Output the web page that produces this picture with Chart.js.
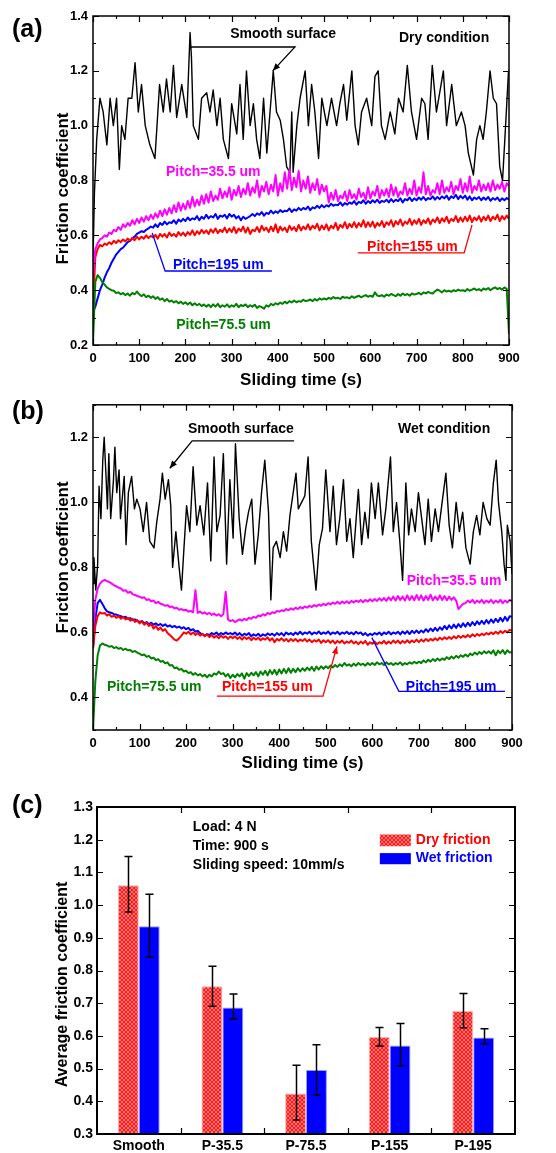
<!DOCTYPE html>
<html><head><meta charset="utf-8">
<script src="https://cdn.jsdelivr.net/npm/chart.js@4.4.1/dist/chart.umd.min.js"></script>
<style>
html,body{margin:0;padding:0;background:#fff;}
#wrap{position:relative;width:556px;height:1153px;overflow:hidden;background:#fff;}
canvas{position:absolute;left:0;}
</style></head><body>
<div id="wrap">
<canvas id="ca" width="556" height="392" style="top:0;width:556px;height:392px"></canvas>
<canvas id="cb" width="556" height="390" style="top:392px;width:556px;height:390px"></canvas>
<canvas id="cc" width="556" height="371" style="top:782px;width:556px;height:371px"></canvas>
</div>
<script>
// ---------------- DATA ----------------
const timeTicks = [0,100,200,300,400,500,600,700,800,900];
const timeMinorTicks = [50,150,250,350,450,550,650,750,850];
const dryYTicks = [0.2,0.4,0.6,0.8,1.0,1.2,1.4];
const dryYMinor = [0.3,0.5,0.7,0.9,1.1,1.3];
const wetYTicks = [0.4,0.6,0.8,1.0,1.2];
const wetYMinor = [0.3,0.5,0.7,0.9,1.1,1.3];
const barYTicks = [0.3,0.4,0.5,0.6,0.7,0.8,0.9,1.0,1.1,1.2,1.3];

// sampling grid (s) of the coloured traces
const sampleTimes = Array.from({length:181},(_,i)=>i*5);

// (a) dry, smooth surface (read at its peaks/valleys)
const dryTimeSmooth = [0,3,8,15,22,30,37,44,51,57,62,69,76,84,91,98,105,113,123,134,144,152,159,167,174,181,192,203,210,213,217,228,235,246,253,260,268,275,282,293,300,311,318,325,332,340,347,354,361,369,376,383,390,397,405,412,419,426,430,433,441,448,459,466,473,480,488,495,506,516,527,534,542,549,560,567,574,581,592,603,610,617,624,632,643,653,661,671,680,689,700,711,718,725,734,743,750,758,765,776,786,797,805,812,823,830,837,844,851,859,866,873,880,886,891,899,900];
const drySmooth = [0.5,0.75,0.95,1.1,1.05,0.93,1.1,1.0,1.1,0.84,1.0,0.95,1.1,1.1,1.23,1.05,1.15,1.0,0.93,0.88,1.15,1.05,1.17,1.05,1.22,1.03,1.15,1.03,1.34,1.25,1.0,0.95,1.1,1.12,1.05,1.13,1.0,1.1,0.95,0.88,1.08,0.97,1.15,0.95,1.2,1.0,1.08,0.95,0.88,1.1,0.9,1.05,1.2,1.05,1.02,0.95,0.85,0.83,1.05,0.83,1.0,1.1,1.2,1.0,1.15,1.05,0.88,1.1,1.0,1.1,1.0,1.08,1.15,1.02,1.2,1.0,0.93,1.05,1.1,1.0,1.18,1.2,1.0,0.95,1.05,0.97,1.1,1.05,1.22,1.05,0.95,1.1,1.08,0.95,1.22,1.05,1.12,1.2,1.0,1.15,1.0,1.05,1.0,0.9,0.82,0.95,1.0,0.95,1.05,1.2,1.1,1.08,0.85,0.8,0.95,1.2,1.2];

const dryP35 = [
0.45,0.55,0.57,0.585,0.59,0.60,0.595,0.61,0.605,0.62,
0.615,0.63,0.62,0.64,0.63,0.645,0.635,0.655,0.64,0.66,
0.645,0.665,0.65,0.67,0.655,0.675,0.66,0.68,0.665,0.69,
0.67,0.695,0.675,0.70,0.68,0.71,0.685,0.72,0.69,0.715,
0.695,0.725,0.70,0.74,0.705,0.73,0.71,0.745,0.715,0.75,
0.72,0.76,0.725,0.745,0.73,0.77,0.735,0.76,0.74,0.775,
0.73,0.765,0.745,0.78,0.74,0.77,0.75,0.79,0.745,0.775,
0.755,0.80,0.74,0.78,0.76,0.795,0.75,0.785,0.76,0.82,
0.745,0.79,0.76,0.83,0.77,0.84,0.765,0.81,0.775,0.835,
0.76,0.80,0.77,0.815,0.755,0.79,0.765,0.805,0.75,0.785,
0.76,0.78,0.72,0.755,0.73,0.765,0.725,0.745,0.735,0.76,
0.725,0.765,0.735,0.75,0.73,0.77,0.74,0.755,0.73,0.775,
0.735,0.76,0.745,0.78,0.735,0.765,0.745,0.77,0.74,0.785,
0.745,0.775,0.74,0.76,0.75,0.79,0.745,0.77,0.75,0.80,
0.745,0.775,0.755,0.83,0.75,0.78,0.745,0.765,0.755,0.79,
0.75,0.80,0.755,0.775,0.76,0.795,0.75,0.78,0.765,0.805,
0.755,0.79,0.76,0.815,0.755,0.78,0.765,0.80,0.76,0.785,
0.765,0.79,0.76,0.80,0.765,0.785,0.77,0.795,0.76,0.79,
0.78];
const dryP195 = [
0.32,0.34,0.37,0.40,0.42,0.445,0.465,0.48,0.50,0.515,
0.53,0.54,0.55,0.555,0.565,0.575,0.58,0.59,0.595,0.605,
0.61,0.615,0.612,0.62,0.625,0.632,0.628,0.64,0.63,0.645,
0.638,0.65,0.64,0.648,0.645,0.655,0.642,0.658,0.65,0.66,
0.652,0.665,0.655,0.662,0.658,0.67,0.655,0.668,0.66,0.675,
0.662,0.67,0.665,0.678,0.66,0.672,0.668,0.675,0.662,0.678,
0.668,0.675,0.662,0.67,0.655,0.668,0.66,0.665,0.67,0.678,
0.67,0.68,0.675,0.685,0.672,0.682,0.678,0.69,0.68,0.688,
0.682,0.692,0.685,0.69,0.688,0.698,0.685,0.695,0.69,0.70,
0.692,0.70,0.695,0.705,0.692,0.702,0.698,0.708,0.70,0.71,
0.702,0.71,0.705,0.715,0.708,0.712,0.71,0.72,0.708,0.718,
0.712,0.72,0.715,0.725,0.712,0.722,0.718,0.728,0.715,0.725,
0.718,0.728,0.72,0.73,0.718,0.726,0.722,0.73,0.72,0.732,
0.722,0.73,0.725,0.735,0.72,0.732,0.728,0.738,0.725,0.735,
0.728,0.738,0.73,0.74,0.728,0.736,0.732,0.742,0.73,0.74,
0.732,0.742,0.735,0.745,0.73,0.742,0.736,0.748,0.732,0.744,
0.735,0.745,0.73,0.742,0.728,0.738,0.732,0.74,0.728,0.738,
0.73,0.74,0.726,0.736,0.73,0.738,0.725,0.735,0.728,0.736,
0.73];
const dryP155 = [
0.34,0.52,0.55,0.565,0.56,0.57,0.565,0.575,0.568,0.58,
0.572,0.582,0.575,0.585,0.578,0.588,0.58,0.59,0.582,0.595,
0.585,0.595,0.588,0.6,0.59,0.598,0.592,0.602,0.588,0.605,
0.595,0.605,0.592,0.61,0.598,0.605,0.595,0.612,0.6,0.61,
0.598,0.612,0.602,0.618,0.6,0.615,0.605,0.62,0.608,0.618,
0.605,0.622,0.61,0.625,0.608,0.62,0.612,0.628,0.61,0.625,
0.612,0.63,0.608,0.625,0.615,0.632,0.61,0.628,0.605,0.62,
0.615,0.63,0.612,0.635,0.618,0.628,0.612,0.632,0.615,0.64,
0.61,0.632,0.618,0.628,0.612,0.635,0.62,0.63,0.615,0.638,
0.618,0.632,0.622,0.64,0.62,0.635,0.625,0.642,0.618,0.636,
0.622,0.64,0.618,0.635,0.625,0.645,0.62,0.638,0.628,0.648,
0.625,0.642,0.63,0.648,0.628,0.645,0.632,0.655,0.63,0.648,
0.632,0.65,0.628,0.645,0.635,0.652,0.63,0.648,0.638,0.655,
0.632,0.652,0.64,0.658,0.635,0.65,0.642,0.66,0.638,0.655,
0.642,0.66,0.638,0.655,0.645,0.662,0.64,0.658,0.648,0.665,
0.645,0.662,0.65,0.668,0.645,0.66,0.652,0.67,0.648,0.665,
0.65,0.668,0.652,0.672,0.648,0.665,0.655,0.67,0.65,0.668,
0.655,0.672,0.652,0.668,0.658,0.675,0.652,0.67,0.658,0.672,
0.66];
const dryP75 = [
0.21,0.43,0.455,0.445,0.43,0.42,0.41,0.405,0.40,0.398,
0.39,0.392,0.385,0.39,0.382,0.388,0.38,0.39,0.385,0.395,
0.385,0.378,0.385,0.375,0.38,0.372,0.378,0.368,0.375,0.365,
0.37,0.36,0.368,0.358,0.362,0.355,0.36,0.352,0.358,0.35,
0.356,0.348,0.355,0.345,0.352,0.345,0.35,0.342,0.348,0.34,
0.347,0.338,0.348,0.34,0.35,0.338,0.345,0.34,0.348,0.338,
0.345,0.34,0.35,0.338,0.346,0.342,0.348,0.338,0.345,0.34,
0.347,0.335,0.342,0.338,0.332,0.345,0.34,0.35,0.345,0.352,
0.348,0.355,0.35,0.358,0.352,0.36,0.355,0.362,0.356,0.36,
0.358,0.365,0.36,0.362,0.366,0.36,0.368,0.362,0.37,0.365,
0.37,0.366,0.372,0.368,0.375,0.37,0.372,0.368,0.376,0.372,
0.374,0.37,0.378,0.372,0.376,0.38,0.374,0.378,0.382,0.376,
0.38,0.376,0.392,0.38,0.378,0.382,0.376,0.384,0.38,0.386,
0.382,0.378,0.386,0.38,0.388,0.382,0.386,0.38,0.388,0.384,
0.386,0.39,0.384,0.392,0.388,0.394,0.39,0.388,0.396,0.402,
0.398,0.392,0.4,0.395,0.398,0.394,0.4,0.396,0.402,0.398,
0.4,0.396,0.404,0.398,0.402,0.406,0.4,0.404,0.398,0.406,
0.402,0.408,0.4,0.406,0.41,0.404,0.408,0.402,0.41,0.405,
0.24];

// (b) wet
const wetTimeSmooth = [0,2,6,10,13,17,21,24,28,31,34,38,44,47,51,56,59,67,71,76,83,89,94,101,108,115,122,131,137,144,149,155,162,167,171,178,185,190,195,201,208,215,223,230,238,246,253,260,266,273,280,287,294,301,306,314,321,328,334,341,348,355,362,369,377,382,387,394,402,409,416,423,430,436,441,448,455,462,469,479,486,493,500,509,516,523,530,538,545,552,559,570,577,584,591,598,606,613,622,629,639,645,652,659,665,672,678,684,692,699,706,713,720,727,735,742,749,758,765,772,780,787,794,801,810,817,824,831,838,846,853,860,866,871,878,883,887,890,896,900];
const wetSmooth = [0.75,0.83,0.73,0.81,1.05,0.95,1.13,1.2,1.08,0.98,1.15,0.95,1.07,1.17,1.03,1.1,0.95,1.08,0.87,1.03,1.08,0.98,1.01,0.98,0.91,1.0,0.88,0.86,0.94,1.01,1.09,1.01,1.07,0.99,0.8,0.91,0.8,0.73,0.85,0.99,0.91,1.11,0.93,0.99,0.9,1.06,0.82,1.14,0.91,0.96,1.15,0.81,1.07,0.89,1.18,0.95,0.84,0.92,0.97,1.01,0.81,0.9,1.03,1.13,0.97,0.7,0.86,0.88,0.83,0.91,0.85,0.96,1.03,1.09,0.98,1.0,1.02,1.14,0.88,0.73,0.87,0.92,1.1,0.91,1.05,0.87,0.95,1.07,0.88,0.95,0.83,1.04,0.87,0.97,0.89,1.06,0.95,1.06,0.9,0.98,1.14,0.91,1.0,0.88,0.76,1.06,0.9,0.98,0.91,1.03,0.95,0.87,1.01,0.88,0.98,0.91,0.99,1.09,0.93,0.86,1.0,0.91,0.97,0.86,0.81,0.91,0.96,0.9,1.0,0.95,0.93,1.06,1.13,1.0,0.91,0.81,0.76,0.93,0.88,0.78];

const wetP35 = [
0.60,0.70,0.735,0.75,0.758,0.762,0.758,0.755,0.75,0.745,
0.742,0.738,0.735,0.728,0.73,0.722,0.725,0.718,0.715,0.712,
0.71,0.706,0.708,0.70,0.702,0.696,0.698,0.69,0.694,0.688,
0.686,0.682,0.684,0.678,0.68,0.674,0.676,0.67,0.672,0.668,
0.67,0.664,0.666,0.662,0.73,0.66,0.664,0.658,0.662,0.656,
0.66,0.654,0.658,0.652,0.656,0.65,0.656,0.725,0.64,0.635,
0.638,0.632,0.636,0.64,0.636,0.642,0.638,0.645,0.642,0.648,
0.645,0.652,0.65,0.656,0.652,0.66,0.656,0.662,0.66,0.666,
0.664,0.668,0.666,0.672,0.668,0.674,0.67,0.676,0.672,0.678,
0.674,0.68,0.676,0.682,0.678,0.684,0.68,0.686,0.682,0.688,
0.684,0.69,0.686,0.692,0.688,0.694,0.688,0.695,0.69,0.696,
0.69,0.697,0.692,0.698,0.694,0.70,0.693,0.70,0.695,0.702,
0.696,0.703,0.697,0.705,0.698,0.706,0.697,0.708,0.699,0.71,
0.698,0.712,0.70,0.71,0.698,0.714,0.70,0.712,0.699,0.715,
0.70,0.714,0.698,0.712,0.70,0.716,0.699,0.71,0.70,0.714,
0.70,0.712,0.699,0.71,0.70,0.708,0.698,0.672,0.68,0.688,
0.69,0.698,0.692,0.70,0.69,0.698,0.692,0.70,0.69,0.698,
0.692,0.70,0.69,0.698,0.692,0.70,0.69,0.698,0.692,0.70,
0.695];
const wetP195 = [
0.55,0.64,0.69,0.70,0.688,0.675,0.665,0.662,0.66,0.656,
0.655,0.652,0.65,0.646,0.648,0.642,0.644,0.638,0.64,0.635,
0.632,0.635,0.628,0.632,0.625,0.63,0.624,0.628,0.622,0.626,
0.62,0.625,0.618,0.622,0.616,0.62,0.615,0.618,0.612,0.616,
0.61,0.614,0.606,0.61,0.602,0.605,0.598,0.594,0.59,0.595,
0.592,0.598,0.594,0.6,0.592,0.598,0.594,0.6,0.595,0.598,
0.594,0.6,0.592,0.598,0.59,0.596,0.592,0.598,0.588,0.594,
0.59,0.596,0.588,0.594,0.59,0.597,0.592,0.596,0.59,0.598,
0.592,0.598,0.59,0.6,0.594,0.598,0.592,0.6,0.594,0.602,
0.594,0.6,0.596,0.602,0.594,0.6,0.596,0.603,0.595,0.6,
0.596,0.603,0.594,0.6,0.596,0.602,0.594,0.6,0.596,0.602,
0.595,0.6,0.594,0.602,0.596,0.6,0.592,0.598,0.59,0.596,
0.592,0.598,0.594,0.6,0.592,0.6,0.595,0.602,0.594,0.6,
0.596,0.602,0.594,0.603,0.596,0.604,0.595,0.605,0.598,0.606,
0.598,0.606,0.6,0.61,0.602,0.612,0.604,0.614,0.605,0.616,
0.608,0.62,0.61,0.622,0.612,0.624,0.614,0.626,0.616,0.628,
0.618,0.63,0.62,0.632,0.622,0.634,0.625,0.636,0.626,0.638,
0.628,0.64,0.63,0.642,0.632,0.645,0.634,0.648,0.636,0.65,
0.648];
const wetP155 = [
0.55,0.62,0.65,0.662,0.658,0.66,0.652,0.656,0.648,0.652,
0.645,0.65,0.642,0.648,0.64,0.645,0.636,0.642,0.632,0.638,
0.628,0.634,0.624,0.63,0.62,0.626,0.612,0.62,0.608,0.615,
0.605,0.61,0.598,0.592,0.585,0.578,0.575,0.582,0.59,0.6,
0.596,0.602,0.594,0.6,0.592,0.598,0.59,0.596,0.588,0.594,
0.586,0.592,0.584,0.59,0.582,0.59,0.584,0.588,0.58,0.588,
0.582,0.588,0.58,0.586,0.578,0.586,0.58,0.585,0.576,0.584,
0.578,0.584,0.576,0.582,0.578,0.585,0.575,0.582,0.57,0.58,
0.575,0.582,0.574,0.58,0.572,0.58,0.574,0.58,0.572,0.578,
0.574,0.58,0.572,0.578,0.57,0.576,0.572,0.578,0.568,0.576,
0.57,0.576,0.568,0.575,0.566,0.574,0.568,0.575,0.566,0.572,
0.568,0.575,0.566,0.572,0.564,0.572,0.566,0.574,0.562,0.57,
0.565,0.572,0.564,0.57,0.566,0.574,0.565,0.572,0.566,0.575,
0.568,0.575,0.566,0.574,0.568,0.576,0.568,0.575,0.57,0.578,
0.57,0.578,0.572,0.58,0.574,0.58,0.575,0.582,0.576,0.584,
0.578,0.585,0.58,0.586,0.58,0.588,0.582,0.59,0.584,0.59,
0.585,0.592,0.586,0.594,0.588,0.595,0.59,0.596,0.592,0.598,
0.594,0.6,0.595,0.602,0.596,0.604,0.598,0.605,0.6,0.608,
0.605];
const wetP75 = [
0.30,0.45,0.53,0.56,0.566,0.562,0.56,0.556,0.558,0.552,
0.555,0.55,0.552,0.546,0.55,0.545,0.546,0.54,0.543,0.538,
0.535,0.53,0.532,0.525,0.528,0.52,0.522,0.515,0.518,0.51,
0.512,0.505,0.508,0.498,0.5,0.49,0.492,0.485,0.488,0.48,
0.482,0.475,0.478,0.47,0.475,0.468,0.472,0.465,0.47,0.462,
0.47,0.465,0.474,0.47,0.48,0.472,0.475,0.465,0.472,0.46,
0.47,0.462,0.472,0.465,0.474,0.458,0.475,0.466,0.476,0.468,
0.478,0.465,0.48,0.47,0.482,0.468,0.484,0.472,0.485,0.47,
0.486,0.474,0.488,0.475,0.49,0.476,0.488,0.478,0.49,0.48,
0.49,0.482,0.492,0.484,0.494,0.482,0.495,0.486,0.496,0.488,
0.496,0.49,0.498,0.492,0.5,0.494,0.502,0.496,0.506,0.498,
0.502,0.496,0.504,0.498,0.506,0.5,0.504,0.498,0.506,0.5,
0.506,0.5,0.508,0.502,0.506,0.5,0.508,0.502,0.506,0.5,
0.506,0.502,0.508,0.5,0.506,0.502,0.508,0.504,0.51,0.505,
0.51,0.506,0.514,0.508,0.516,0.51,0.518,0.512,0.52,0.514,
0.52,0.516,0.524,0.518,0.526,0.52,0.528,0.522,0.53,0.525,
0.532,0.526,0.535,0.53,0.538,0.532,0.54,0.534,0.542,0.536,
0.542,0.535,0.545,0.53,0.544,0.536,0.546,0.534,0.545,0.538,
0.54];

// (c) averages
const barCategories = ['Smooth','P-35.5','P-75.5','P-155','P-195'];
const dryAvg   = [1.061,0.752,0.424,0.597,0.676];
const dryErrHi = [1.149,0.813,0.510,0.626,0.730];
const dryErrLo = [0.979,0.691,0.343,0.569,0.625];
const wetAvg   = [0.935,0.687,0.496,0.571,0.595];
const wetErrHi = [1.033,0.728,0.573,0.638,0.622];
const wetErrLo = [0.842,0.651,0.420,0.509,0.575];

// ---------------- STYLE / HELPERS ----------------
const FONT = '"Liberation Sans", Arial, Helvetica, sans-serif';
const C = {black:'#000000', magenta:'#ff00ff', red:'#ff0000', blue:'#0000ff', green:'#008000'};
Chart.defaults.font.family = FONT;
Chart.defaults.font.weight = 'bold';
Chart.defaults.color = '#000';

function pts(times, vals){ return vals.map((v,i)=>({x:times[i], y:v})); }

function makePattern(){
  const c = document.createElement('canvas'); c.width = 4; c.height = 4;
  const g = c.getContext('2d');
  g.fillStyle = '#ffffff'; g.fillRect(0,0,4,4);
  g.fillStyle = '#ff1a1a';
  [[0,0],[4,0],[0,4],[4,4],[2,2]].forEach(([x,y])=>{ g.beginPath(); g.arc(x,y,1.55,0,Math.PI*2); g.fill(); });
  return document.createElement('canvas').getContext('2d').createPattern(c,'repeat');
}
const dryPattern = makePattern();

function drawArrowHead(ctx, x1,y1,x2,y2, size){
  const ang = Math.atan2(y2-y1, x2-x1);
  ctx.beginPath();
  ctx.moveTo(x2,y2);
  ctx.lineTo(x2 - size*Math.cos(ang-0.4), y2 - size*Math.sin(ang-0.4));
  ctx.lineTo(x2 - size*Math.cos(ang+0.4), y2 - size*Math.sin(ang+0.4));
  ctx.closePath(); ctx.fill();
}

// decoration plugin: frame with inward ticks, axis titles, panel label, annotations
function decor(cfg){
  return {
    id: 'decor',
    afterDatasetsDraw(chart){
      const {ctx, chartArea:a, scales:{x, y}} = chart;
      const X = v => x.getPixelForValue(v), Y = v => y.getPixelForValue(v);
      ctx.save();
      ctx.strokeStyle = '#000'; ctx.lineWidth = 1.2;
      ctx.beginPath();
      const tx = (list, len) => list.forEach(v => { const p = Math.round(X(v))+0.5;
        ctx.moveTo(p, a.bottom); ctx.lineTo(p, a.bottom-len);
        ctx.moveTo(p, a.top); ctx.lineTo(p, a.top+len); });
      const ty = (list, len) => list.forEach(v => { const p = Math.round(Y(v))+0.5;
        ctx.moveTo(a.left, p); ctx.lineTo(a.left+len, p);
        ctx.moveTo(a.right, p); ctx.lineTo(a.right-len, p); });
      tx(cfg.xMajor, 6); tx(cfg.xMinor, 3); ty(cfg.yMajor, 6); ty(cfg.yMinor, 3);
      ctx.stroke();
      ctx.lineWidth = cfg.frameW;
      ctx.strokeRect(a.left, a.top, a.right-a.left, a.bottom-a.top);
      (cfg.notes||[]).forEach(n => {
        ctx.fillStyle = n.color || '#000'; ctx.strokeStyle = n.color || '#000';
        if (n.text){
          ctx.font = 'bold ' + (n.size||14) + 'px ' + FONT;
          ctx.textAlign = 'left'; ctx.textBaseline = 'middle';
          ctx.fillText(n.text, X(n.x), Y(n.y));
        }
        if (n.line){
          ctx.lineWidth = 1.3;
          ctx.beginPath();
          n.line.forEach(([px,py],i)=>{ const xx=X(px), yy=Y(py); i? ctx.lineTo(xx,yy) : ctx.moveTo(xx,yy); });
          ctx.stroke();
          if (n.arrow){
            const L = n.line.length;
            drawArrowHead(ctx, X(n.line[L-2][0]), Y(n.line[L-2][1]), X(n.line[L-1][0]), Y(n.line[L-1][1]), 8);
          }
        }
        if (n.swatch){
          const x0 = X(n.swatch[0]), x1 = X(n.swatch[1]), y0 = Y(n.swatch[2]), y1 = Y(n.swatch[3]);
          ctx.fillStyle = n.fill; ctx.fillRect(x0, y0, x1-x0, y1-y0);
        }
      });
      ctx.fillStyle = '#000';
      ctx.textBaseline = 'middle'; ctx.textAlign = 'center';
      if (cfg.xTitle){
        ctx.font = 'bold 17px ' + FONT;
        ctx.fillText(cfg.xTitle, (a.left+a.right)/2, a.bottom + cfg.xTitleOff);
      }
      ctx.save();
      ctx.translate(cfg.yTitleX, (a.top+a.bottom)/2 + (cfg.yTitleDy||0));
      ctx.rotate(-Math.PI/2);
      ctx.font = 'bold ' + cfg.yTitleSize + 'px ' + FONT;
      ctx.fillText(cfg.yTitle, 0, 0);
      ctx.restore();
      ctx.textAlign = 'left';
      ctx.font = 'bold 25px ' + FONT;
      ctx.fillText(cfg.panel, 12, cfg.panelY);
      ctx.restore();
    }
  };
}

function lineDS(label, data, color, w){
  return {label, data, borderColor: color, backgroundColor: color, borderWidth: w,
          pointRadius: 0, tension: 0, fill: false, borderJoinStyle: 'round'};
}

function timeScales(yMin, yMax, yTicks, yAxisW, xAxisH){
  return {
    x: {type:'linear', min:0, max:900,
        afterBuildTicks: s => { s.ticks = timeTicks.map(v=>({value:v})); },
        afterFit: s => { s.height = xAxisH; },
        grid:{display:false, drawTicks:false}, border:{display:false},
        ticks:{font:{size:13, weight:'bold'}, color:'#000', padding:6, maxRotation:0, autoSkip:false}},
    y: {type:'linear', min:yMin, max:yMax,
        afterBuildTicks: s => { s.ticks = yTicks.map(v=>({value:v})); },
        afterFit: s => { s.width = yAxisW; },
        grid:{display:false, drawTicks:false}, border:{display:false},
        ticks:{font:{size:13, weight:'bold'}, color:'#000', padding:5, callback: v => Number(v).toFixed(1)}}
  };
}

const commonOpts = {responsive:false, animation:false, events:[],
  plugins:{legend:{display:false}, tooltip:{enabled:false}}};

// ---------------- CHART (a) ----------------
new Chart(document.getElementById('ca'), {
  type:'line',
  data:{datasets:[
    lineDS('Pitch=75.5 um', pts(sampleTimes, dryP75), C.green, 2),
    lineDS('Pitch=35.5 um', pts(sampleTimes, dryP35), C.magenta, 2),
    lineDS('Pitch=155 um', pts(sampleTimes, dryP155), C.red, 2),
    lineDS('Pitch=195 um', pts(sampleTimes, dryP195), C.blue, 2),
    lineDS('Smooth surface', pts(dryTimeSmooth, drySmooth), C.black, 1.4)
  ]},
  options:Object.assign({}, commonOpts, {
    layout:{padding:{top:16, right:47, left:0, bottom:0}},
    scales: timeScales(0.2, 1.4, dryYTicks, 93, 47)
  }),
  plugins:[decor({
    xMajor: timeTicks, xMinor: timeMinorTicks, yMajor: dryYTicks, yMinor: dryYMinor, frameW: 1.5,
    xTitle:'Sliding time (s)', xTitleOff: 35, yTitle:'Friction coefficient', yTitleX: 63, yTitleSize: 17, yTitleDy: 8,
    panel:'(a)', panelY: 30,
    notes:[
      {text:'Smooth surface', x:297, y:1.334},
      {line:[[212,1.287],[437,1.287],[389,1.2]], arrow:true},
      {text:'Dry condition', x:662, y:1.32},
      {text:'Pitch=35.5 um', x:158, y:0.831, color:C.magenta},
      {text:'Pitch=195 um', x:173, y:0.492, color:C.blue},
      {line:[[128,0.609],[156,0.47],[387,0.47]], color:C.blue},
      {text:'Pitch=155 um', x:593, y:0.558, color:C.red},
      {line:[[573,0.536],[803,0.536],[820,0.638]], color:C.red},
      {text:'Pitch=75.5 um', x:180, y:0.273, color:C.green}
    ]})]
});

// ---------------- CHART (b) ----------------
new Chart(document.getElementById('cb'), {
  type:'line',
  data:{datasets:[
    lineDS('Pitch=35.5 um', pts(sampleTimes, wetP35), C.magenta, 2),
    lineDS('Pitch=75.5 um', pts(sampleTimes, wetP75), C.green, 2),
    lineDS('Pitch=155 um', pts(sampleTimes, wetP155), C.red, 2),
    lineDS('Pitch=195 um', pts(sampleTimes, wetP195), C.blue, 2),
    lineDS('Smooth surface', pts(wetTimeSmooth, wetSmooth), C.black, 1.4)
  ]},
  options:Object.assign({}, commonOpts, {
    layout:{padding:{top:7, right:44, left:0, bottom:0}},
    scales: timeScales(0.3, 1.3, wetYTicks, 93, 52)
  }),
  plugins:[decor({
    xMajor: timeTicks, xMinor: timeMinorTicks, yMajor: wetYTicks, yMinor: wetYMinor, frameW: 1.5,
    xTitle:'Sliding time (s)', xTitleOff: 33, yTitle:'Friction coefficient', yTitleX: 63, yTitleSize: 17, yTitleDy: -10,
    panel:'(b)', panelY: 20,
    notes:[
      {text:'Smooth surface', x:204, y:1.225},
      {line:[[432,1.189],[213,1.189],[165,1.105]], arrow:true},
      {text:'Wet condition', x:655, y:1.225},
      {text:'Pitch=35.5 um', x:674, y:0.759, color:C.magenta},
      {text:'Pitch=75.5 um', x:30, y:0.431, color:C.green},
      {text:'Pitch=155 um', x:277, y:0.431, color:C.red},
      {line:[[266,0.404],[494,0.404],[524,0.557]], color:C.red, arrow:true},
      {text:'Pitch=195 um', x:672, y:0.431, color:C.blue},
      {line:[[885,0.419],[657,0.419],[599,0.584]], color:C.blue}
    ]})]
});

// ---------------- CHART (c) ----------------
const errorBars = {
  id:'errorBars',
  afterDatasetsDraw(chart){
    const {ctx, scales:{y}} = chart;
    const sets = [[dryErrLo, dryErrHi],[wetErrLo, wetErrHi]];
    ctx.save(); ctx.strokeStyle = '#000'; ctx.lineWidth = 1.5;
    sets.forEach(([lo,hi], di) => {
      chart.getDatasetMeta(di).data.forEach((bar, i) => {
        const cx = Math.round(bar.x)+0.5, t = y.getPixelForValue(hi[i]), b = y.getPixelForValue(lo[i]);
        ctx.beginPath();
        ctx.moveTo(cx, t); ctx.lineTo(cx, b);
        ctx.moveTo(cx-4, t); ctx.lineTo(cx+4, t);
        ctx.moveTo(cx-4, b); ctx.lineTo(cx+4, b);
        ctx.stroke();
      });
    });
    ctx.restore();
  }
};

new Chart(document.getElementById('cc'), {
  type:'bar',
  data:{labels: barCategories, datasets:[
    {label:'Dry friction', data: dryAvg, backgroundColor: dryPattern, borderColor:'#ffb0b0', borderWidth:1,
     categoryPercentage:0.5, barPercentage:1.0, borderSkipped:'bottom'},
    {label:'Wet friction', data: wetAvg, backgroundColor: C.blue, borderColor:'#9a9aff', borderWidth:1,
     categoryPercentage:0.5, barPercentage:1.0, borderSkipped:'bottom'}
  ]},
  options:Object.assign({}, commonOpts, {
    layout:{padding:{top:25, right:41, left:0, bottom:0}},
    scales:{
      x:{type:'category', offset:true, afterFit: s => { s.height = 19; },
         grid:{display:false, drawTicks:false}, border:{display:false},
         ticks:{font:{size:14, weight:'bold'}, color:'#000', padding:4, maxRotation:0, autoSkip:false}},
      y:{type:'linear', min:0.3, max:1.3,
         afterBuildTicks: s => { s.ticks = barYTicks.map(v=>({value:v})); },
         afterFit: s => { s.width = 97; },
         grid:{display:false, drawTicks:false}, border:{display:false},
         ticks:{font:{size:14, weight:'bold'}, color:'#000', padding:4, callback: v => Number(v).toFixed(1)}}
    }
  }),
  plugins:[errorBars, decor({
    xMajor:[0.5,1.5,2.5,3.5], xMinor:[], yMajor: barYTicks, yMinor: [], frameW: 2,
    yTitle:'Average friction coefficient', yTitleX: 63, yTitleSize: 16, yTitleDy: 14,
    panel:'(c)', panelY: 24,
    notes:[
      {text:'Load: 4 N', x:0.646, y:1.238},
      {text:'Time: 900 s', x:0.646, y:1.18},
      {text:'Sliding speed: 10mm/s', x:0.646, y:1.122},
      {swatch:[2.883,3.254,1.216,1.18], fill: dryPattern},
      {text:'Dry friction', x:3.313, y:1.198, color:C.red},
      {swatch:[2.883,3.254,1.159,1.125], fill: C.blue},
      {text:'Wet friction', x:3.313, y:1.143, color:C.blue}
    ]})]
});
</script>
</body></html>
